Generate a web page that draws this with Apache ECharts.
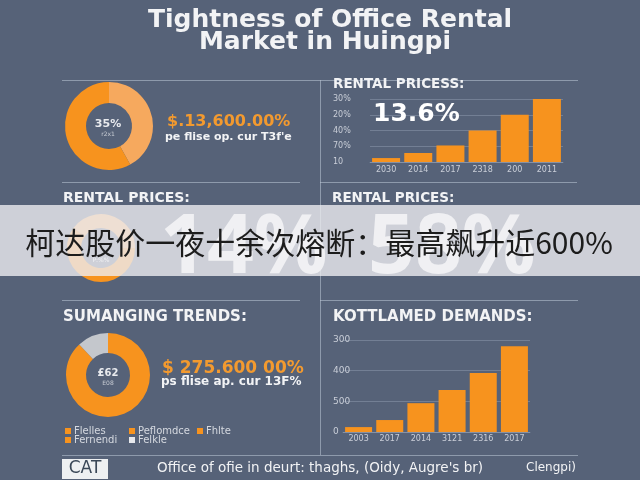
<!DOCTYPE html>
<html><head><meta charset="utf-8">
<script src="https://cdn.jsdelivr.net/npm/echarts@6/dist/echarts.min.js"></script>
<style>html,body{margin:0;padding:0;background:#566278}#c{width:640px;height:480px}</style>
</head><body><div id="c"></div>
<script>
const titleLines = ['Tightness of Office Rental', 'Market in Huingpi'];
const barYears1 = ['2030', '2014', '2017', '2318', '200', '2011'];
const barValues1 = [0.25, 0.57, 1.05, 2.0, 3.0, 4.0];
const barTicks1 = ['10', '70%', '40%', '20%', '30%'];
const barYears2 = ['2003', '2017', '2014', '3121', '2316', '2017'];
const barValues2 = [16, 39, 94, 137, 192, 280];
const barTicks2 = ['0', '500', '400', '300'];
const donut1Values = [42, 58];
const donut2Values = [88, 12];
const donut3Values = [60, 40];
const legendNames = ['Flelles', 'Peflomdce', 'Fhlte', 'Fernendi', 'Felkle'];
const bannerText = '柯达股价一夜十余次熔断：最高飙升近600%';

const ORANGE = '#f7931e', LIGHT = '#f6a95e', GRAY = '#c4c7cc';
const TXT = '#f2f3f5', AX = '#c9ced8', GRID = 'rgba(170,182,200,0.35)';
const FONT = '"DejaVu Sans", Verdana, sans-serif';
const WFONT = '"Open Sans", sans-serif';

const chart = echarts.init(document.getElementById('c'));

function txt(x, y, s, size, color, weight, align, font, z) {
  return { type: 'text', x: x, y: y, z: z || 10,
    style: { text: s, font: (weight || 'normal') + ' ' + size + 'px ' + (font || FONT), fill: color,
      textAlign: align || 'left', textVerticalAlign: 'middle' } };
}
function line(x1, y1, x2, y2) {
  return { type: 'line', z: 5, shape: { x1: x1, y1: y1, x2: x2, y2: y2 },
    style: { stroke: 'rgba(190,200,215,0.55)', lineWidth: 1 } };
}

const graphics = [
  txt(330, 20, titleLines[0], 25, TXT, 'bold', 'center'),
  txt(325, 42, titleLines[1], 25, TXT, 'bold', 'center'),
  line(62, 80.5, 578, 80.5),
  line(320.5, 80, 320.5, 455),
  line(62, 182.5, 300, 182.5),
  line(320, 182.5, 577, 182.5),
  line(62, 300.5, 300, 300.5),
  line(320, 300.5, 578, 300.5),
  line(62, 455.5, 578, 455.5),
  // top-left
  txt(108, 124, '35%', 11, '#e8eaee', 'bold', 'center'),
  txt(108, 134, 'r2x1', 6, '#c8ccd4', 'normal', 'center'),
  txt(167, 122, '$.13,600.00%', 16, '#f39a2f', 'bold'),
  txt(165, 137, 'pe flise op. cur T3f\'e', 11, TXT, 'bold'),
  // top-right
  txt(333, 84, 'RENTAL PRICESS:', 13.5, TXT, 'bold'),
  txt(373, 114, '13.6%', 25, '#ffffff', 'bold', 'left', FONT, 20),
  // middle headers
  txt(63, 198, 'RENTAL PRICES:', 14, TXT, 'bold'),
  txt(332, 198, 'RENTAL PRICES:', 13.5, TXT, 'bold'),
  txt(160, 250, '14%', 82, '#ffffff', 'bold', 'left', WFONT, 30),
  txt(368, 250, '58%', 82, '#ffffff', 'bold', 'left', WFONT, 30),
  txt(101, 260, 'P:%%', 6, '#ffffff', 'normal', 'center', FONT, 30),
  // banner
  { type: 'rect', z: 100, shape: { x: 0, y: 205, width: 640, height: 71 }, style: { fill: 'rgba(236,236,240,0.8)' } },
  txt(319, 243, bannerText, 30, '#1c1c1c', 'normal', 'center', '"Noto Sans CJK SC", sans-serif', 101),
  // bottom-left
  txt(63, 317, 'SUMANGING TRENDS:', 15, TXT, 'bold'),
  txt(108, 373, '₤62', 10, '#e8eaee', 'bold', 'center'),
  txt(108, 383, 'E08', 6, '#c8ccd4', 'normal', 'center'),
  txt(162, 369, '$ 275.600 00%', 17, '#f39a2f', 'bold'),
  txt(161, 382, 'ps flise ap. cur 13F%', 12, TXT, 'bold'),
  // bottom-right
  txt(333, 317, 'KOTTLAMED DEMANDS:', 15, TXT, 'bold'),
  // footer
  { type: 'rect', z: 10, shape: { x: 62, y: 459, width: 46, height: 20 }, style: { fill: '#eef0f2' } },
  txt(85, 469, 'CAT', 17, '#3b4858', 'normal', 'center'),
  txt(157, 468, 'Office of ofie in deurt: thaghs, (Oidy, Augre\'s br)', 13.5, TXT, 'normal'),
  txt(526, 468, 'Clengpi)', 12, TXT, 'normal')
];

// legend
const legendPos = [[65, 431], [129, 431], [197, 431], [65, 440], [129, 440]];
const legendColors = [ORANGE, ORANGE, ORANGE, ORANGE, '#e6e8ec'];
legendNames.forEach(function (n, i) {
  const p = legendPos[i];
  graphics.push({ type: 'rect', z: 10, shape: { x: p[0], y: p[1] - 3, width: 6, height: 6 }, style: { fill: legendColors[i] } });
  graphics.push(txt(p[0] + 9, p[1], n, 10, '#d5d9e0', 'normal'));
});

const axisCommon = {
  axisTick: { show: false },
  axisLine: { lineStyle: { color: GRID } },
  splitLine: { lineStyle: { color: GRID } }
};

chart.setOption({
  backgroundColor: '#566278',
  animation: false,
  graphic: { elements: graphics },
  grid: [
    { left: 370, right: 77, top: 99, bottom: 318 },
    { left: 343, right: 110, top: 340, bottom: 48 }
  ],
  xAxis: [
    { type: 'category', gridIndex: 0, data: barYears1, axisTick: { show: false },
      axisLine: { lineStyle: { color: GRID } },
      axisLabel: { color: AX, fontSize: 8, margin: 4, fontFamily: FONT } },
    { type: 'category', gridIndex: 1, data: barYears2, axisTick: { show: false },
      axisLine: { lineStyle: { color: GRID } },
      axisLabel: { color: AX, fontSize: 8, margin: 3, fontFamily: FONT } }
  ],
  yAxis: [
    Object.assign({ type: 'value', gridIndex: 0, min: 0, max: 4, interval: 1,
      axisLabel: { color: AX, fontSize: 8, align: 'left', margin: 37, fontFamily: FONT,
        formatter: function (v) { return barTicks1[Math.round(v)]; } } }, axisCommon),
    Object.assign({ type: 'value', gridIndex: 1, min: 0, max: 300, interval: 100,
      axisLabel: { color: AX, fontSize: 9, align: 'left', margin: 10, fontFamily: FONT,
        formatter: function (v) { return barTicks2[Math.round(v / 100)]; } } }, axisCommon)
  ],
  series: [
    { type: 'bar', xAxisIndex: 0, yAxisIndex: 0, data: barValues1, barWidth: 28,
      itemStyle: { color: ORANGE }, z: 3 },
    { type: 'bar', xAxisIndex: 1, yAxisIndex: 1, data: barValues2, barWidth: 27,
      itemStyle: { color: ORANGE }, z: 3 },
    { type: 'pie', center: [109, 126], radius: [23, 44], startAngle: 90, silent: true,
      label: { show: false }, labelLine: { show: false },
      data: donut1Values.map(function (v, i) { return { value: v, itemStyle: { color: i === 0 ? LIGHT : ORANGE } }; }) },
    { type: 'pie', center: [108, 375], radius: [22, 42], startAngle: 90, silent: true,
      label: { show: false }, labelLine: { show: false },
      data: donut2Values.map(function (v, i) { return { value: v, itemStyle: { color: i === 0 ? ORANGE : GRAY } }; }) },
    { type: 'pie', center: [101, 248], radius: [20, 34], startAngle: 0, silent: true,
      label: { show: false }, labelLine: { show: false },
      data: donut3Values.map(function (v, i) { return { value: v, itemStyle: { color: i === 0 ? ORANGE : LIGHT } }; }) }
  ]
});
</script></body></html>
